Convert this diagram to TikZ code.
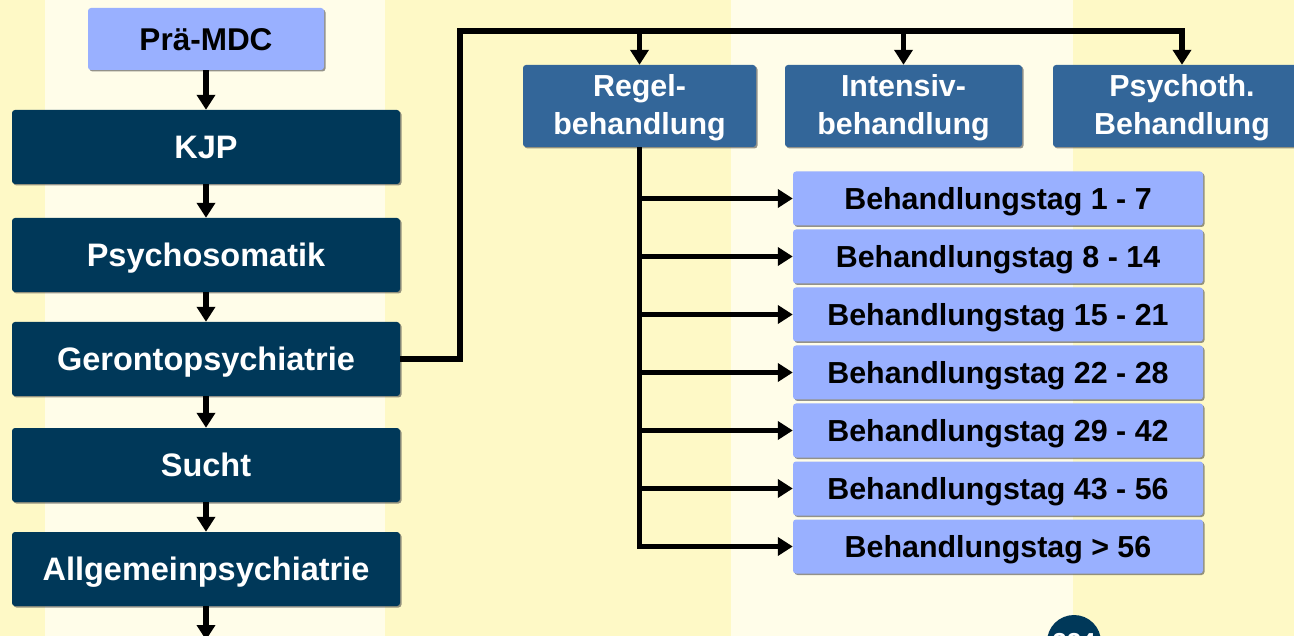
\documentclass[tikz,border=0pt]{standalone}
\usepackage{fontspec}
\setmainfont{Liberation Sans}
\usetikzlibrary{arrows.meta,shadows}
\definecolor{ybg}{HTML}{FEF9C6}
\definecolor{pbg}{HTML}{FFFDE9}
\definecolor{navy}{HTML}{003859}
\definecolor{midblue}{HTML}{336699}
\definecolor{lblue}{HTML}{99B0FF}
\tikzset{
  box/.style={rounded corners=3pt, inner sep=0pt, align=center, text depth=0pt,
    drop shadow={shadow xshift=1.5pt, shadow yshift=-1.5pt, opacity=0.6, fill=black!70}},
  leftbox/.style={box, fill=navy, text=white, minimum width=388pt, minimum height=74pt,
    text height=23.3pt, font=\bfseries\fontsize{32.5}{39}\selectfont},
  prebox/.style={box, fill=lblue, text=black, minimum width=236pt, minimum height=62pt,
    text height=22.6pt, font=\bfseries\fontsize{31.5}{38}\selectfont},
  topbox/.style={box, fill=midblue, text=white, minimum height=82pt,
    text height=57pt, font=\bfseries\fontsize{30.4}{38}\selectfont},
  daybox/.style={box, fill=lblue, text=black, minimum width=410pt, minimum height=54pt,
    text height=21.8pt, font=\bfseries\fontsize{30.4}{36}\selectfont},
  conn/.style={line width=5.5pt, black},
  arr/.style={conn, -{Triangle[width=18pt,length=15pt]}},
  pagemark/.style={circle, fill=navy, text=white, minimum size=54pt, inner sep=0pt,
    font=\bfseries\fontsize{26}{30}\selectfont}
}
\begin{document}
\begin{tikzpicture}[x=1pt,y=-1pt]
\useasboundingbox (0,0) rectangle (1294,636);
\clip (0,0) rectangle (1294,636);
% background stripes
\fill[ybg] (0,0) rectangle (1294,636);
\fill[pbg] (45,0) rectangle (385,636);
\fill[pbg] (731,0) rectangle (1073,636);

% left column
\node[prebox] (pre) at (206,39) {Prä-MDC};
\node[leftbox] (kjp) at (206,147) {KJP};
\node[leftbox] (pso) at (206,255) {Psychosomatik};
\node[leftbox] (ger) at (206,359) {Gerontopsychiatrie};
\node[leftbox] (su) at (206,465) {Sucht};
\node[leftbox] (all) at (206,569) {Allgemeinpsychiatrie};
\coordinate (bot) at (206,640);

\draw[arr] (pre) -- (kjp);
\draw[arr] (kjp) -- (pso);
\draw[arr] (pso) -- (ger);
\draw[arr] (ger) -- (su);
\draw[arr] (su) -- (all);
\draw[arr] (all) -- (bot);

% top boxes
\node[topbox, minimum width=233pt] (reg) at (639.5,106) {Regel-\\behandlung};
\node[topbox, minimum width=237pt] (int) at (903.5,106) {Intensiv-\\behandlung};
\node[topbox, minimum width=258pt] (psy) at (1182,106) {Psychoth.\\Behandlung};

\coordinate (top) at (460,31);
\draw[arr] (ger.east) -| (top) -| (psy.north);
\draw[arr] (reg.north |- top) -- (reg.north);
\draw[arr] (int.north |- top) -- (int.north);

% day boxes
\node[daybox] (d1) at (998,198.5) {Behandlungstag 1 - 7};
\node[daybox] (d2) at (998,256.5) {Behandlungstag 8 - 14};
\node[daybox] (d3) at (998,314.5) {Behandlungstag 15 - 21};
\node[daybox] (d4) at (998,372.5) {Behandlungstag 22 - 28};
\node[daybox] (d5) at (998,430.5) {Behandlungstag 29 - 42};
\node[daybox] (d6) at (998,488.5) {Behandlungstag 43 - 56};
\node[daybox] (d7) at (998,546.5) {Behandlungstag > 56};

\draw[conn] (reg.south) -- ([yshift=-2.75pt]reg.south |- d7.west);
\foreach \d in {d1,d2,d3,d4,d5,d6,d7}
  \draw[arr] (reg.south |- \d.west) -- (\d.west);

% page number (cut off at the lower edge, as in the reference)
\node[pagemark] (pg) at (1074,642) {224};
\end{tikzpicture}
\end{document}
